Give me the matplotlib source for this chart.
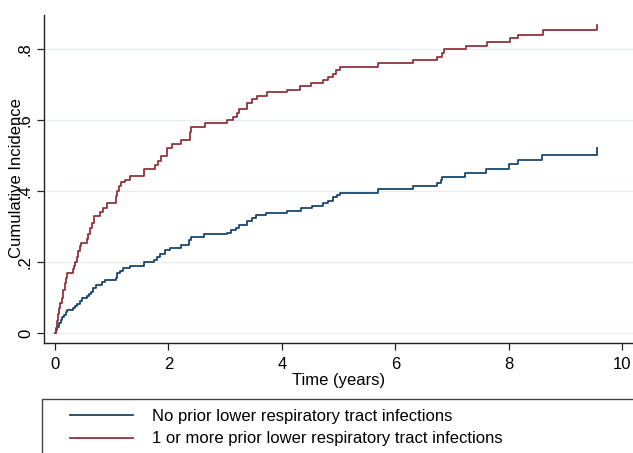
import matplotlib
matplotlib.use('Agg')
import matplotlib.pyplot as plt
from matplotlib.patches import Rectangle

plt.rcParams['font.family'] = ['Liberation Sans', 'DejaVu Sans']

# step points (time in years, cumulative incidence)
red_t = [0.00, 0.01, 0.03, 0.05, 0.07, 0.09, 0.12, 0.14, 0.17, 0.19, 0.22, 0.31, 0.33,
         0.36, 0.38, 0.41, 0.44, 0.46, 0.57, 0.59, 0.62, 0.65, 0.69, 0.80, 0.85, 0.92,
         1.08, 1.10, 1.13, 1.16, 1.23, 1.33, 1.57, 1.76, 1.82, 1.86, 1.97, 2.06, 2.23,
         2.38, 2.40, 2.65, 3.03, 3.13, 3.20, 3.25, 3.38, 3.47, 3.56, 3.73, 4.09, 4.32,
         4.51, 4.72, 4.82, 4.90, 4.96, 5.03, 5.69, 6.31, 6.74, 6.82, 6.85, 7.25, 7.61,
         8.02, 8.16, 8.60, 9.55]
red_y = [0.000, 0.015, 0.035, 0.055, 0.070, 0.085, 0.100, 0.120, 0.140, 0.155, 0.170, 0.180, 0.190,
         0.200, 0.215, 0.230, 0.245, 0.255, 0.265, 0.280, 0.295, 0.310, 0.330, 0.340, 0.352, 0.365,
         0.385, 0.400, 0.415, 0.425, 0.432, 0.442, 0.462, 0.473, 0.485, 0.500, 0.520, 0.532, 0.544,
         0.565, 0.580, 0.592, 0.600, 0.610, 0.620, 0.630, 0.648, 0.658, 0.668, 0.678, 0.686, 0.696,
         0.705, 0.713, 0.722, 0.731, 0.741, 0.750, 0.760, 0.769, 0.779, 0.790, 0.800, 0.810, 0.819,
         0.830, 0.841, 0.854, 0.868]

blue_t = [0.00, 0.02, 0.04, 0.07, 0.10, 0.13, 0.16, 0.19, 0.22, 0.31, 0.35, 0.39, 0.44,
          0.48, 0.57, 0.60, 0.63, 0.67, 0.72, 0.83, 0.88, 1.07, 1.10, 1.14, 1.19, 1.33,
          1.57, 1.75, 1.80, 1.85, 1.94, 2.03, 2.23, 2.37, 2.39, 2.63, 3.04, 3.11, 3.19,
          3.25, 3.39, 3.47, 3.55, 3.72, 4.09, 4.33, 4.53, 4.72, 4.82, 4.90, 4.97, 5.03,
          5.69, 6.31, 6.74, 6.80, 6.83, 7.23, 7.60, 8.01, 8.16, 8.59, 9.55]
blue_y = [0.000, 0.010, 0.018, 0.028, 0.037, 0.045, 0.052, 0.060, 0.066, 0.070, 0.075, 0.081, 0.090,
          0.098, 0.103, 0.110, 0.117, 0.126, 0.135, 0.145, 0.150, 0.155, 0.168, 0.176, 0.182, 0.189,
          0.200, 0.207, 0.215, 0.224, 0.234, 0.241, 0.248, 0.262, 0.271, 0.279, 0.283, 0.290, 0.297,
          0.304, 0.316, 0.323, 0.332, 0.337, 0.345, 0.351, 0.359, 0.365, 0.373, 0.382, 0.389, 0.395,
          0.405, 0.414, 0.423, 0.432, 0.440, 0.451, 0.462, 0.475, 0.487, 0.501, 0.522]

labels = ['No prior lower respiratory tract infections',
          '1 or more prior lower respiratory tract infections']
yticks = [0, 0.2, 0.4, 0.6, 0.8]
yticklabels = ['0', '.2', '.4', '.6', '.8']
xticks = [0, 2, 4, 6, 8, 10]

navy = '#1a476f'
maroon = '#90353b'
fs = 12

fig = plt.figure(figsize=(6.33, 4.53), dpi=100)
ax = fig.add_axes([44/633, 1-343/453, 1-44/633, (343-15)/453])

ax.set_yticks(yticks)
ax.set_yticklabels(yticklabels, rotation=90, va='center')
ax.set_xticks(xticks)
ax.yaxis.grid(True, color='#e6eef0', linewidth=1.0)
ax.set_axisbelow(True)

l1, = ax.step(blue_t, blue_y, where='post', color=navy, linewidth=1.3)
l2, = ax.step(red_t, red_y, where='post', color=maroon, linewidth=1.3)

ax.set_xlim(-0.194, 10.19)
ax.set_ylim(-0.028, 0.896)

for s in ['top', 'right']:
    ax.spines[s].set_visible(False)
for s in ['left', 'bottom']:
    ax.spines[s].set_color('#222222')
    ax.spines[s].set_linewidth(1.0)
ax.tick_params(axis='both', labelsize=fs, length=5, width=0.9, color='#222222')
ax.tick_params(axis='y', pad=3)
ax.tick_params(axis='x', pad=5)

ax.set_xlabel('Time (years)', fontsize=fs, labelpad=1)
fig.text(17/633, 1-178/453, 'Cumulative Incidence', rotation=90, ha='center', va='center',
         fontsize=fs)

# legend box (runs off the bottom/right of the image)
fig.patches.append(Rectangle((42/633, -0.2), 1.0, 0.2 + 1-399/453, transform=fig.transFigure,
                             fill=False, edgecolor='#444444', linewidth=1.0))
fig.legend([l1, l2], labels, loc='upper left', bbox_to_anchor=(55/633, 1-394/453),
           frameon=False, fontsize=fs, handlelength=3.8, handletextpad=1.1,
           labelspacing=0.45)

fig.savefig('out.png', dpi=100)
